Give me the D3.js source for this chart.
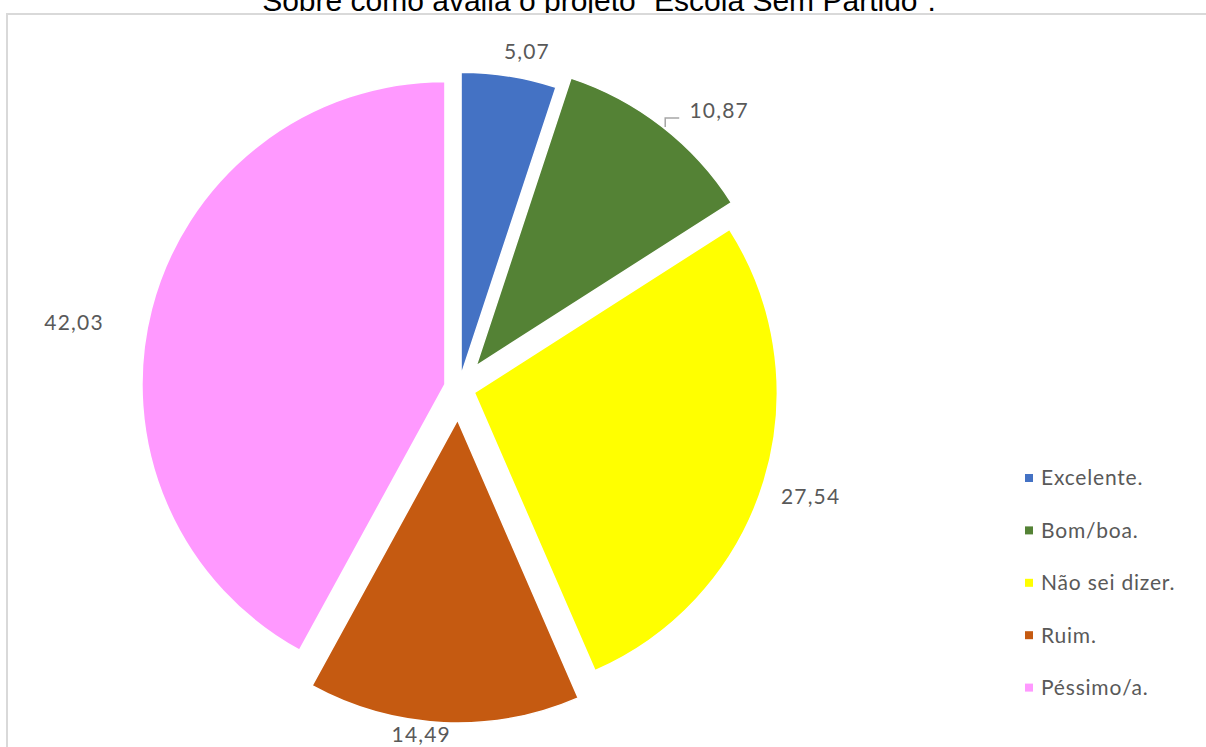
<!DOCTYPE html>
<html>
<head>
<meta charset="utf-8">
<script src="https://cdn.jsdelivr.net/npm/d3@7"></script>
<style>
  html, body { margin: 0; padding: 0; background: #ffffff; }
  svg { display: block; }
</style>
</head>
<body>
<svg id="chart" width="1206" height="747"></svg>
<script>
// Survey answers and their shares (%)
const categories = ["Excelente.", "Bom/boa.", "Não sei dizer.", "Ruim.", "Péssimo/a."];
const values = [5.07, 10.87, 27.54, 14.49, 42.03];
const valueLabels = ["5,07", "10,87", "27,54", "14,49", "42,03"];
const colors = ["#4472C4", "#548235", "#FFFF00", "#C55A11", "#FF99FF"];
const title = "Sobre como avalia o projeto \u201CEscola Sem Partido\u201D.";

// Layout
const W = 1206, H = 747;
const cx = 459, cy = 388, R = 303;
const explode = [13, 28, 16, 32, 14.5];            // per-slice pull-out distance
const labelDist = [27, 49, 49, 14, 73];             // label distance beyond the rim
const labelTurn = [2.3, 5.4, 0.2, 3.6, -4.7];       // label angle tweak (degrees)

const svg = d3.select("#chart");

// Title (sits above the chart frame and is partly cut by the page edge)
svg.append("text")
  .attr("x", 599).attr("y", 11)
  .attr("text-anchor", "middle")
  .attr("font-family", "Liberation Sans, Arial, sans-serif")
  .attr("font-size", 30)
  .attr("fill", "#000")
  .text(title);

// Chart frame
svg.append("rect")
  .attr("x", 7).attr("y", 14)
  .attr("width", W + 10).attr("height", H + 10)
  .attr("fill", "#ffffff")
  .attr("stroke", "#d9d9d9")
  .attr("stroke-width", 2);

const pie = d3.pie().sort(null).startAngle(0).endAngle(2 * Math.PI);
const arcs = pie(values);
const arc = d3.arc().innerRadius(0).outerRadius(R);

const g = svg.append("g").attr("transform", `translate(${cx},${cy})`);

const slices = g.selectAll("g.slice")
  .data(arcs)
  .join("g")
  .attr("class", "slice")
  .attr("transform", (d, i) => {
    const mid = (d.startAngle + d.endAngle) / 2;
    return `translate(${explode[i] * Math.sin(mid)},${-explode[i] * Math.cos(mid)})`;
  });

slices.append("path")
  .attr("d", arc)
  .attr("fill", (d, i) => colors[i])
  .attr("stroke", "#ffffff")
  .attr("stroke-width", 1.5)
  .attr("stroke-linejoin", "round");

// Value labels placed outside each slice
const labelPos = arcs.map((d, i) => {
  const mid = (d.startAngle + d.endAngle) / 2 + labelTurn[i] * Math.PI / 180;
  const r = R + explode[i] + labelDist[i];
  return [r * Math.sin(mid), -r * Math.cos(mid)];
});

g.selectAll("text.value")
  .data(arcs)
  .join("text")
  .attr("class", "value")
  .attr("x", (d, i) => labelPos[i][0])
  .attr("y", (d, i) => labelPos[i][1])
  .attr("dy", "0.35em")
  .attr("text-anchor", "middle")
  .attr("font-family", "Lato, Carlito, Calibri, sans-serif")
  .attr("font-size", 21)
  .attr("letter-spacing", 1.2)
  .attr("fill", "#595959")
  .text((d, i) => valueLabels[i]);

// Leader line for the "Bom/boa." label
{
  const [lx, ly] = labelPos[1];
  const left = lx - 31;
  svg.append("path")
    .attr("transform", `translate(${cx},${cy})`)
    .attr("d", `M${left - 9},${ly + 7}H${left - 23}V${ly + 16}`)
    .attr("fill", "none")
    .attr("stroke", "#a6a6a6")
    .attr("stroke-width", 1.5);
}

// Legend
const legend = svg.append("g").attr("transform", "translate(1025,478)");
const legendStep = 52.4;
const item = legend.selectAll("g")
  .data(categories)
  .join("g")
  .attr("transform", (d, i) => `translate(0,${i * legendStep})`);
item.append("rect")
  .attr("x", 0).attr("y", -4)
  .attr("width", 8).attr("height", 8)
  .attr("fill", (d, i) => colors[i]);
item.append("text")
  .attr("x", 16).attr("y", 0)
  .attr("dy", "0.35em")
  .attr("font-family", "Lato, Carlito, Calibri, sans-serif")
  .attr("font-size", 21)
  .attr("letter-spacing", 0.8)
  .attr("fill", "#595959")
  .text(d => d);
</script>
</body>
</html>
